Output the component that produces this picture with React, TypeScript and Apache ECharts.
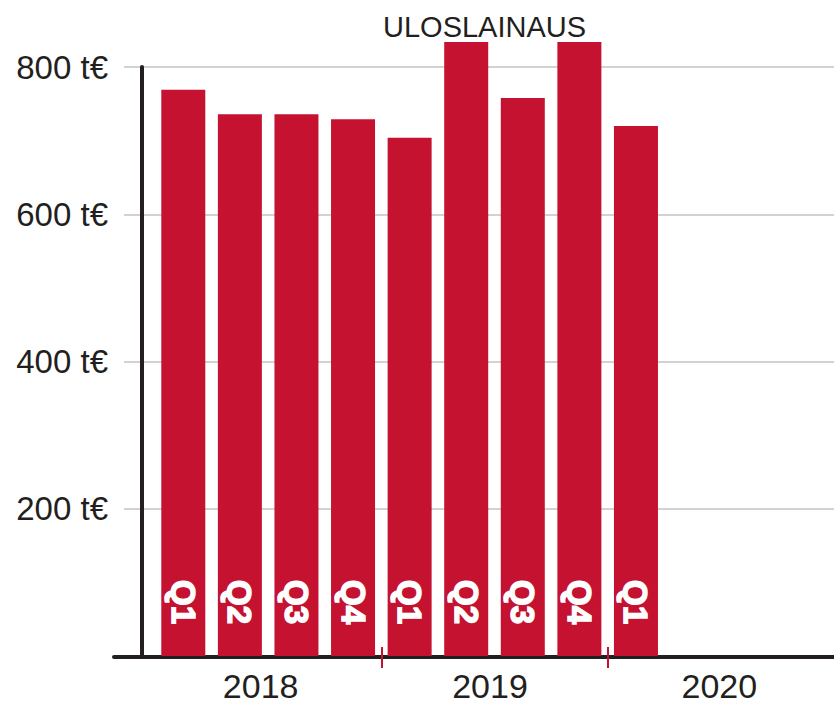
import React, { useEffect, useRef } from "react";
import * as echarts from "echarts";

const quarters = ["Q1", "Q2", "Q3", "Q4", "Q1", "Q2", "Q3", "Q4", "Q1", "Q2", "Q3", "Q4"];
const values: (number | null)[] = [769, 736, 736, 729, 704, 834, 758, 834, 720, null, null, null];
const years = ["2018", "2019", "2020"];
const yTickValues = [0, 200, 400, 600, 800];
const titleText = "ULOSLAINAUS";
const unit = " t€";

const FONT = "'Liberation Sans', Arial, Helvetica, sans-serif";
const RED = "#c41230";
const DARK = "#231f20";

// boundary slots between quarters (one more than the number of quarters)
const boundarySlots = [...quarters.map((_, i) => String(i)), String(quarters.length)];

export default function App() {
  const ref = useRef<HTMLDivElement>(null);
  useEffect(() => {
    if (!ref.current) return;
    const chart = echarts.init(ref.current, null, { renderer: "svg" });
    chart.setOption({
      animation: false,
      title: {
        text: titleText,
        left: 383,
        top: 12,
        padding: 0,
        textStyle: { fontFamily: FONT, fontSize: 29, fontWeight: "normal", color: DARK },
      },
      grid: [
        { left: 155, right: -2, top: 42, bottom: 50 },
        { left: 124, right: 0, top: 67, bottom: 50 },
        { left: 114, right: 0, top: 67, bottom: 49 },
        { left: 146, right: -6, top: 67, bottom: 50 },
      ],
      xAxis: [
        {
          gridIndex: 0,
          type: "category",
          position: "bottom",
          data: quarters,
          axisLine: { show: false },
          axisLabel: { show: false },
          axisTick: { show: false },
        },
        {
          gridIndex: 0,
          type: "category",
          position: "bottom",
          data: boundarySlots,
          boundaryGap: false,
          offset: -9,
          axisLine: { show: false },
          axisLabel: { show: false },
          axisTick: {
            show: true,
            length: 21,
            interval: (i: number) => i === 4 || i === 8,
            lineStyle: { color: RED, width: 2 },
          },
        },
        { gridIndex: 1, type: "value", show: false },
        {
          gridIndex: 2,
          type: "value",
          position: "bottom",
          axisLine: { show: true, onZero: false, lineStyle: { color: DARK, width: 4 } },
          axisTick: { show: false },
          axisLabel: { show: false },
          splitLine: { show: false },
        },
        {
          gridIndex: 3,
          type: "category",
          position: "bottom",
          data: years,
          axisLine: { show: false },
          axisTick: { show: false },
          axisLabel: { margin: 13, fontFamily: FONT, fontSize: 34, color: DARK },
        },
      ],
      yAxis: [
        { gridIndex: 0, type: "value", min: 0, max: 834, show: false },
        {
          gridIndex: 1,
          type: "value",
          min: yTickValues[0],
          max: yTickValues[yTickValues.length - 1],
          interval: 200,
          offset: -18,
          axisLine: { show: true, lineStyle: { color: DARK, width: 4 } },
          axisTick: { show: false },
          axisLabel: {
            margin: 34,
            fontFamily: FONT,
            fontSize: 33,
            color: DARK,
            formatter: (v: number) => (v === 0 ? "" : v + unit),
          },
          splitLine: { show: true, lineStyle: { color: "#d2d2d2", width: 2 } },
        },
        { gridIndex: 2, type: "value", show: false },
        { gridIndex: 3, type: "value", show: false },
      ],
      series: [
        {
          type: "bar",
          xAxisIndex: 0,
          yAxisIndex: 0,
          data: values,
          barWidth: 44,
          itemStyle: { color: RED },
          label: {
            show: true,
            position: "insideBottom",
            distance: 30,
            rotate: -90,
            align: "right",
            verticalAlign: "middle",
            offset: [-2, 0],
            formatter: (p: any) => quarters[p.dataIndex],
            fontFamily: FONT,
            fontSize: 33,
            fontWeight: "bold",
            color: "#ffffff",
            textBorderColor: "#ffffff",
            textBorderWidth: 1.5,
          },
        },
      ],
    });
    return () => chart.dispose();
  }, []);
  return (
    <div
      ref={ref}
      style={{ position: "absolute", left: 0, top: 0, width: 834, height: 706 }}
    />
  );
}
